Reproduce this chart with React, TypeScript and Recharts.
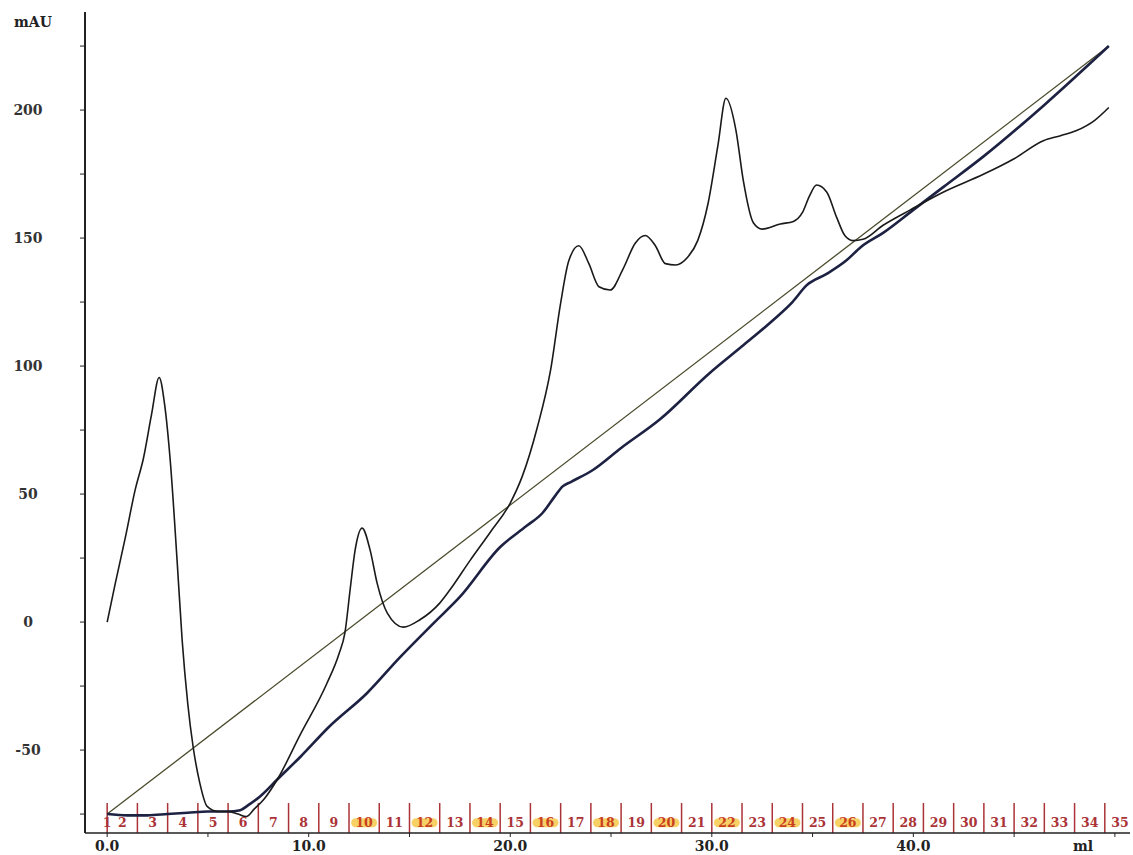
import React from 'react';
import {
  ComposedChart,
  Line,
  Scatter,
  XAxis,
  YAxis,
  ReferenceLine,
} from 'recharts';

// UV absorbance trace (ml, mAU)
const uvMl = [
  0, 0.4, 0.9, 1.4, 1.8, 2.2, 2.58, 2.85, 3.13, 3.47, 3.72, 4.0, 4.27, 4.6, 4.96, 5.5, 6.0, 6.5, 6.9,
  7.3, 7.8, 8.44, 9.58, 10.9, 11.5, 11.8, 12.06, 12.3, 12.65, 13.05, 13.4, 13.9, 14.7, 15.5,
  16.5, 17.0, 18.0, 19.0, 20.0, 20.6, 21.34, 22.0, 22.5, 22.9, 23.4, 23.9, 24.4, 24.96, 25.6, 26.2, 26.7,
  27.2, 27.7, 28.2, 28.8, 29.3, 29.8, 30.3, 30.7, 31.2, 31.56, 32.06, 32.5, 33.4, 34.05, 34.5, 34.85, 35.2,
  35.7, 36.2, 36.6, 37.0, 37.5, 38.5, 39.85, 41.5, 43.5, 45.0, 46.45, 47.3, 48.1, 49.0, 49.7,
];
const uvMau = [
  0, 15, 33, 52, 64, 81, 95.5, 85, 63, 24, -7, -32, -49, -63, -72, -74, -74, -75, -76,
  -73, -69, -61.5, -44, -24, -12.5, -4, 13, 28, 36.7, 28, 15, 3.5, -2, 0.8,
  7.4, 12.5, 24, 35, 46.5, 57, 76, 98.4, 124.6, 141, 147, 140, 131, 129.7, 138, 148, 151,
  147, 140, 139.5, 142.5, 149, 163, 186, 204.6, 192, 172.6, 156, 153.5, 155.5, 156.5, 160, 166.5, 170.7,
  168, 158, 151, 149, 149.5, 155, 161, 168, 175, 181, 188, 190, 192, 196, 201,
];

// conductivity-like thick trace
const condMl = [
  0, 1.0, 2.0, 3.0, 4.0, 5.0, 6.0, 6.6, 7.0, 7.6, 8.5, 9.58, 11.0, 12.9, 14.5, 16.2, 17.5, 19.5, 20.8,
  21.6, 22.2, 22.6, 23.0, 24.1, 25.5, 27.4, 29.9, 31.5, 33.05, 34.0, 34.7, 35.7, 36.7, 37.4, 38.5, 40.0,
  41.5, 43.5, 46.5, 49.7,
];
const condMau = [
  -75, -75.5, -75.5, -75, -74.5, -74, -74, -73.5, -71.5, -68, -61, -52.7, -41, -27.7, -14, -0.4, 9.8, 29.3, 37.5,
  42.6, 49, 53, 54.7, 59.4, 68, 79, 97.3, 107.7, 118, 125, 131.5, 136, 141.4, 146.5, 152, 161,
  170, 182, 202, 225,
];

// gradient line
const gradMl = [0, 49.7];
const gradMau = [-75, 225];

// fraction collector boundaries and numbers
const fractionStarts = [
  0, 1.5, 3, 4.5, 6, 7.5, 9, 10.5, 12, 13.5, 15, 16.5, 18, 19.5, 21, 22.5, 24, 25.5, 27, 28.5,
  30, 31.5, 33, 34.5, 36, 37.5, 39, 40.5, 42, 43.5, 45, 46.5, 48, 49.5, 51,
];
const fractionNumbers = [
  2, 3, 4, 5, 6, 7, 8, 9, 10, 11, 12, 13, 14, 15, 16, 17, 18, 19, 20, 21, 22, 23, 24, 25, 26, 27, 28,
  29, 30, 31, 32, 33, 34, 35,
];
const highlighted = [10, 12, 14, 16, 18, 20, 22, 24, 26];

const xTicks = [0, 5, 10, 15, 20, 25, 30, 35, 40, 45, 50];
const xLabelled = [0, 10, 20, 30, 40];
const yTicks = [-75, -50, -25, 0, 25, 50, 75, 100, 125, 150, 175, 200, 225];

const X_DOMAIN: [number, number] = [-1.1, 50.75];
const Y_DOMAIN: [number, number] = [-82.4, 238.3];
const MARK_TOP = -70.7;
const LABEL_Y = -78.2;

const FONT = '"DejaVu Serif", "Liberation Serif", serif';
const RED = '#ab3337';

const zip = (xs: number[], ys: number[]) => xs.map((ml, i) => ({ ml, v: ys[i] }));
const uvData = zip(uvMl, uvMau);
const condData = zip(condMl, condMau);
const gradData = zip(gradMl, gradMau);

const labelData = [
  { ml: 0, v: LABEL_Y, n: 1, hl: false },
  ...fractionNumbers.map((n, i) => ({
    ml: (fractionStarts[i] + fractionStarts[i + 1]) / 2,
    v: LABEL_Y,
    n,
    hl: highlighted.includes(n),
  })),
];
const boundaries = fractionStarts.slice(0, fractionNumbers.length);

function YTick(props: any) {
  const { x, y, payload } = props;
  if (Math.abs(payload.value % 50) !== 0) return null;
  return (
    <text x={x - 52} y={y + 5} textAnchor="middle" fontFamily={FONT} fontWeight="bold" fontSize={14} fill="#333">
      {payload.value}
    </text>
  );
}

function XTick(props: any) {
  const { x, y, payload } = props;
  if (!xLabelled.includes(payload.value)) return null;
  return (
    <text x={x} y={y + 14} textAnchor="middle" fontFamily={FONT} fontWeight="bold" fontSize={14} fill="#222">
      {payload.value.toFixed(1)}
    </text>
  );
}

function FractionLabel(props: any) {
  const { cx, cy, payload } = props;
  const w = payload.n >= 10 ? 18 : 9;
  return (
    <g>
      {payload.hl && (
        <rect x={cx - w / 2 - 4} y={cy - 4} width={w + 8} height={9} rx={4.5} fill="#f6c640" opacity={0.8} />
      )}
      <text
        x={cx}
        y={cy + 5}
        textAnchor="middle"
        fontFamily={FONT}
        fontWeight="bold"
        fontSize={12.5}
        fill={payload.hl ? '#c9401f' : RED}
      >
        {payload.n}
      </text>
    </g>
  );
}

export default function App() {
  return (
    <div style={{ position: 'absolute', left: 0, top: 0, background: '#fff' }}>
      <ComposedChart width={1133} height={855} margin={{ top: 12, right: 3, bottom: 0, left: 0 }}>
        <XAxis
          type="number"
          dataKey="ml"
          domain={X_DOMAIN}
          ticks={xTicks}
          allowDataOverflow
          height={22}
          tickSize={4}
          tickMargin={0}
          axisLine={{ stroke: '#222', strokeWidth: 1.5 }}
          tickLine={{ stroke: '#222' }}
          tick={<XTick />}
          label={({ viewBox }: any) => (
            <text
              x={viewBox.x + viewBox.width - 47}
              y={viewBox.y + 18}
              textAnchor="middle"
              fontFamily={FONT}
              fontWeight="bold"
              fontSize={14}
              fill="#222"
            >
              ml
            </text>
          )}
        />
        <YAxis
          type="number"
          dataKey="v"
          domain={Y_DOMAIN}
          ticks={yTicks}
          allowDataOverflow
          width={85}
          tickSize={5}
          tickMargin={0}
          axisLine={{ stroke: '#222', strokeWidth: 2 }}
          tickLine={{ stroke: '#222' }}
          tick={<YTick />}
          label={({ viewBox }: any) => (
            <text
              x={viewBox.x + 33}
              y={viewBox.y + 15}
              textAnchor="middle"
              fontFamily={FONT}
              fontWeight="bold"
              fontSize={14}
              fill="#222"
            >
              mAU
            </text>
          )}
        />
        {boundaries.map((b) => (
          <ReferenceLine
            key={b}
            segment={[
              { x: b, y: Y_DOMAIN[0] },
              { x: b, y: MARK_TOP },
            ]}
            stroke={RED}
            strokeWidth={1.5}
          />
        ))}
        <Scatter data={labelData} dataKey="v" shape={<FractionLabel />} isAnimationActive={false} />
        <Line
          data={gradData}
          dataKey="v"
          type="linear"
          stroke="#4a4a2c"
          strokeWidth={1.3}
          dot={false}
          isAnimationActive={false}
        />
        <Line
          data={condData}
          dataKey="v"
          type="monotone"
          stroke="#1d2142"
          strokeWidth={2.6}
          dot={false}
          isAnimationActive={false}
        />
        <Line
          data={uvData}
          dataKey="v"
          type="monotone"
          stroke="#1a1a1a"
          strokeWidth={1.6}
          dot={false}
          isAnimationActive={false}
        />
      </ComposedChart>
    </div>
  );
}
